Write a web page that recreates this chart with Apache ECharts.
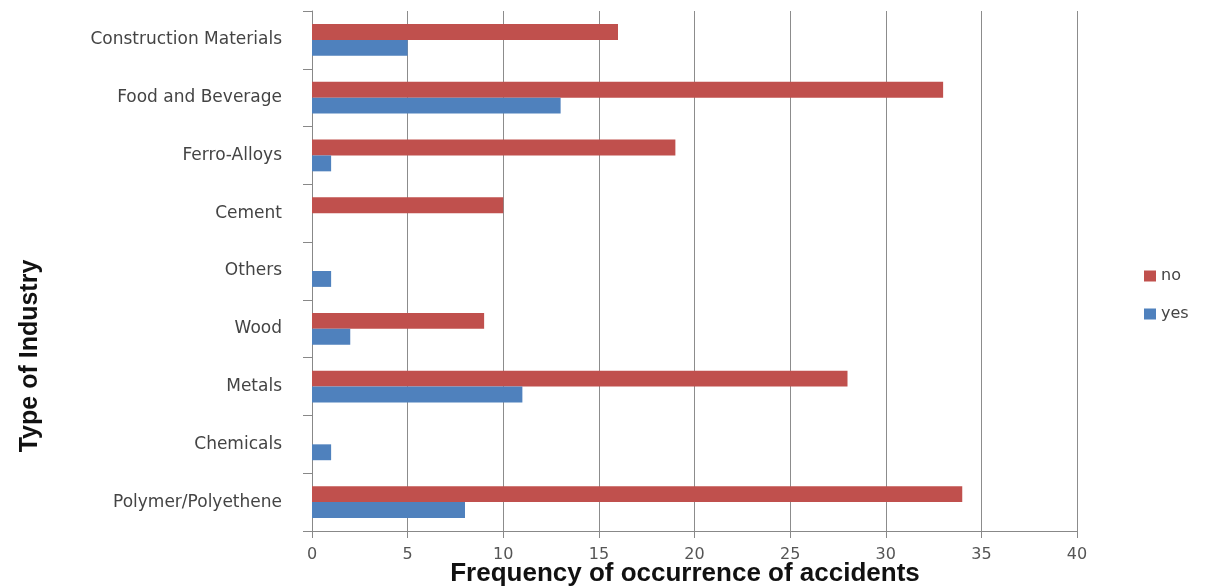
<!DOCTYPE html>
<html>
<head>
<meta charset="utf-8">
<script src="https://cdn.jsdelivr.net/npm/echarts@6/dist/echarts.min.js"></script>
<style>
  html, body { margin: 0; padding: 0; background: #fff; }
  #main { width: 1217px; height: 587px; }
</style>
</head>
<body>
<div id="main"></div>
<script>
// 行业类别（从上到下）
var industries = ['Construction Materials', 'Food and Beverage', 'Ferro-Alloys', 'Cement',
    'Others', 'Wood', 'Metals', 'Chemicals', 'Polymer/Polyethene'];
var noValues = [16, 33, 19, 10, 0, 9, 28, 0, 34];
var yesValues = [5, 13, 1, 0, 1, 2, 11, 1, 8];
var xTicks = [0, 5, 10, 15, 20, 25, 30, 35, 40];

function AccidentChart() {
    var myChart = echarts.init(document.getElementById('main'));
    var option = {
        animation: false,
        grid: { left: 312, right: 140, top: 11, bottom: 56, containLabel: false, outerBoundsMode: 'none' },
        legend: {
            orient: 'vertical',
            left: 1139,
            top: 263,
            itemWidth: 12,
            itemHeight: 11,
            itemGap: 22,
            icon: 'rect',
            textStyle: { color: '#444', fontSize: 16, fontFamily: 'DejaVu Sans' },
            data: ['no', 'yes']
        },
        xAxis: {
            type: 'value',
            min: xTicks[0],
            max: xTicks[xTicks.length - 1],
            interval: 5,
            axisLine: { show: true, lineStyle: { color: '#888' } },
            axisTick: { show: true, length: 7, lineStyle: { color: '#888' } },
            axisLabel: { margin: 16, color: '#555', fontSize: 16, fontFamily: 'DejaVu Sans' },
            splitLine: { show: true, lineStyle: { color: '#8c8c8c', width: 1 } }
        },
        yAxis: {
            type: 'category',
            inverse: true,
            data: industries,
            axisLine: { show: true, lineStyle: { color: '#888' } },
            axisTick: { show: true, length: 9, lineStyle: { color: '#888' } },
            axisLabel: { margin: 30, color: '#444', fontSize: 17, fontFamily: 'DejaVu Sans' }
        },
        // 坐标轴标题
        graphic: [{
            type: 'text',
            x: 30,
            y: 356,
            rotation: Math.PI / 2,
            style: {
                text: 'Type of Industry',
                font: 'bold 25px "Liberation Sans"',
                fill: '#111',
                textAlign: 'center',
                textVerticalAlign: 'middle'
            }
        }, {
            type: 'text',
            x: 685,
            y: 574,
            style: {
                text: 'Frequency of occurrence of accidents',
                font: 'bold 26px "Liberation Sans"',
                fill: '#111',
                textAlign: 'center',
                textVerticalAlign: 'middle'
            }
        }],
        series: [
            {
                name: 'no',
                type: 'bar',
                data: noValues,
                barGap: '0%',
                barCategoryGap: '45%',
                itemStyle: { color: '#C0504D' }
            },
            {
                name: 'yes',
                type: 'bar',
                data: yesValues,
                itemStyle: { color: '#4F81BD' }
            }
        ]
    };
    myChart.setOption(option, true);
    return myChart;
}

window.onload = function () {
    accidentChart = AccidentChart();
};
</script>
</body>
</html>
